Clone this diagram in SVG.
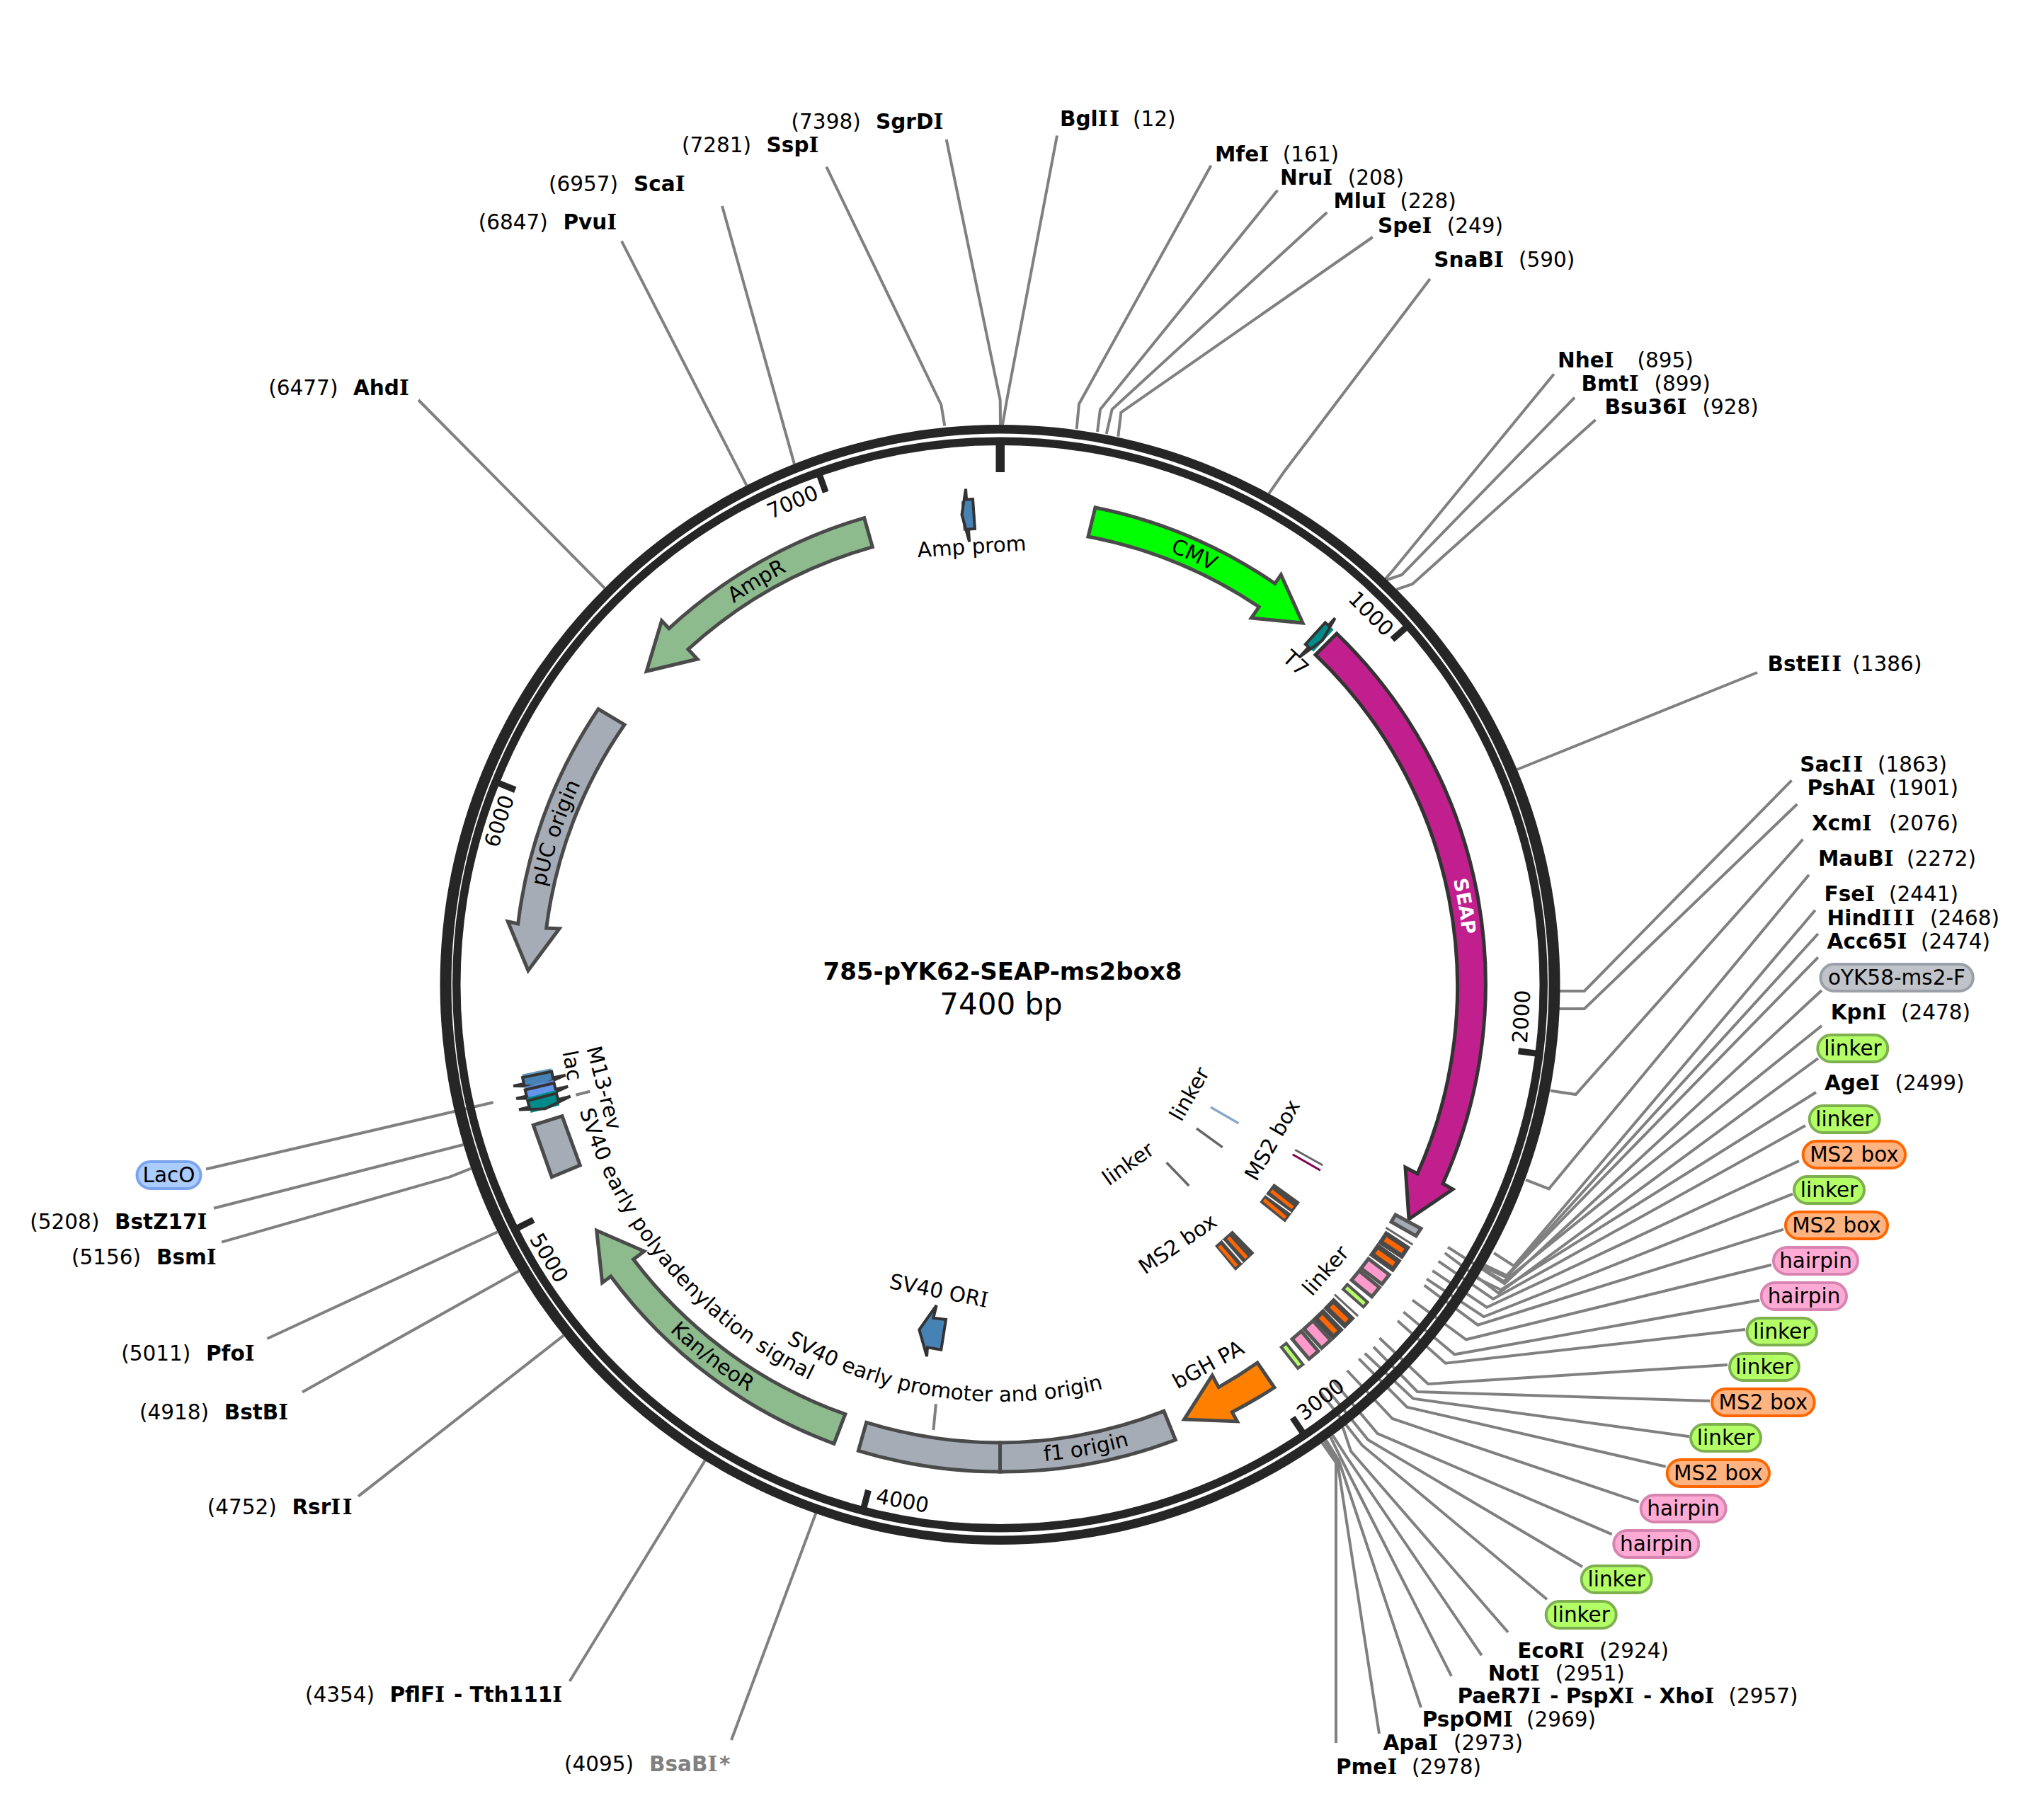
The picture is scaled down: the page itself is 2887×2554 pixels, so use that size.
<svg xmlns="http://www.w3.org/2000/svg" width="2887" height="2554" viewBox="0 0 2887 2554">
<style>
text{font-family:"DejaVu Sans","Liberation Sans",sans-serif;font-size:29.5px;fill:#000}
.m{text-anchor:middle}
.b{font-weight:bold}
.i{font-family:"DejaVu Serif",serif;letter-spacing:.09em}
.ir{font-family:"DejaVu Serif",serif;letter-spacing:.05em}
.gr{fill:#808080}
#connectors polyline{fill:none;stroke:#808080;stroke-width:4}
.ring{fill:none;stroke:#262626;stroke-width:11.5}
.tick{fill:#262626}
.f{stroke:#4a4a4a;stroke-width:5;stroke-linejoin:miter}
.ori{fill:#a6acb5}
.mk{stroke:#333;stroke-width:4;fill:#4682b4}
.pill{stroke-width:4}
.lk{fill:#b3ff66;stroke:#7fb050}
.ms{fill:#ffb380;stroke:#ff6600}
.hp{fill:#ffaad4;stroke:#d884b0}
.pr{fill:#c0c4ca;stroke:#9a9fa8}
.lo{fill:#aaccff;stroke:#7aa5ee}
</style>
<defs>
<path id="up657" d="M1412.5,2048A657,657 0 1 1 1412.5,734A657,657 0 1 1 1412.5,2048"/>
<path id="low676" d="M1412.5,715A676,676 0 1 0 1412.5,2067A676,676 0 1 0 1412.5,715"/>
<path id="low589" d="M1412.5,802A589,589 0 1 0 1412.5,1980A589,589 0 1 0 1412.5,802"/>
<path id="low620" d="M1412.5,771A620,620 0 1 0 1412.5,2011A620,620 0 1 0 1412.5,771"/>
<g id="blkMs"><rect x="1402" y="703" width="21" height="42" fill="#4a4a4a"/><rect x="1409" y="709" width="7" height="30" fill="#ff6600"/></g>
<g id="blkPk"><rect x="1404" y="705.5" width="17" height="37" fill="#ff99cc" stroke="#555" stroke-width="5"/></g>
<g id="blkGn"><rect x="1408" y="705" width="9" height="38" fill="#b3ff66" stroke="#555" stroke-width="4"/></g>
<rect id="blkTh" x="1411" y="702" width="3" height="45" fill="#666"/>
<polygon id="mkL" points="1421.5,704 1412.5,704 1412.5,689 1404.5,725 1412.5,764 1412.5,746 1421.5,746"/>
</defs>

<g id="connectors">
<polyline points="1334.3,601.7 1329.3,571.7 1167.3,235.7"/>
<polyline points="1413,600 1412.7,565 1336.7,197"/>
<polyline points="1416,600 1422.7,561.7 1493,191.5"/>
<polyline points="1520.7,606 1524,570.7 1710.5,233.8"/>
<polyline points="1550,610 1554,578.3 1804.4,268.8"/>
<polyline points="1562.7,613 1570.7,578.3 1874.3,300"/>
<polyline points="1579.3,616.7 1583.3,582.7 1938.8,335"/>
<polyline points="1792.3,697.2 1813.6,666.5 2019.8,394"/>
<polyline points="1957,817.3 1968,805 2194.7,528.4"/>
<polyline points="1959,819 1980,812 2224,561.6"/>
<polyline points="1972.6,832.6 1995,825 2253.6,592.9"/>
<polyline points="2142.8,1087 2482,950"/>
<polyline points="2200,1400 2237.8,1400 2530.6,1102.3"/>
<polyline points="2200,1425 2237.8,1425 2538.3,1136"/>
<polyline points="2190,1540.7 2225.7,1546 2546.4,1185.7"/>
<polyline points="2155,1666.7 2187.7,1679.3 2555,1235.7"/>
<polyline points="2110,1770 2138.3,1788.3 2563.8,1285.7"/>
<polyline points="2097.2,1787 2128.3,1801.7 2567.9,1319"/>
<polyline points="2095,1790 2127,1804 2567.9,1352.3"/>
<polyline points="2045,1761.7 2125,1813.3 2573,1399"/>
<polyline points="2094,1792.4 2124,1810 2573,1449"/>
<polyline points="2040.7,1770 2116.7,1826.7 2568,1495"/>
<polyline points="2086.2,1805.5 2120,1822 2565,1543"/>
<polyline points="2031.7,1781.7 2109,1835 2550,1590"/>
<polyline points="2023.3,1795 2100,1846.7 2541,1640"/>
<polyline points="2015,1806.7 2095.7,1860 2532,1686.7"/>
<polyline points="2011.7,1815.7 2087.3,1871.7 2519,1736.7"/>
<polyline points="1995,1836.7 2070.7,1892.3 2502,1786.7"/>
<polyline points="1982.3,1853.3 2054.5,1913.3 2485,1836.7"/>
<polyline points="1974,1865.7 2041.7,1925.7 2465,1878"/>
<polyline points="1948.3,1890 2017,1955 2440,1928"/>
<polyline points="1940,1902.7 2002,1966 2415,1979"/>
<polyline points="1927.7,1911.7 1996,1975.7 2386,2029.3"/>
<polyline points="1919.3,1919.3 1987.3,1987.7 2352.7,2071.7"/>
<polyline points="1902.7,1936 1966.7,2004 2314.7,2121.7"/>
<polyline points="1883.6,1951.2 1945.7,2025 2276.7,2167.3"/>
<polyline points="1872.7,1960.2 1932.3,2034 2235,2213.3"/>
<polyline points="1864.9,1966.5 1924,2041.7 2185,2259.3"/>
<polyline points="1896.7,2016.4 1908,2050 2130,2305.7"/>
<polyline points="1882.3,2027.4 1900,2055 2092.7,2338.3"/>
<polyline points="1879.1,2029.7 1894,2060 2050,2367.7"/>
<polyline points="1873,2034.2 1891,2063 2007,2412"/>
<polyline points="1870.7,2035.8 1889,2065 1948,2449"/>
<polyline points="1867.3,2038.1 1887,2066 1887,2462"/>
<polyline points="1152.3,2137.8 1033,2458"/>
<polyline points="995.6,2063.4 804.6,2375"/>
<polyline points="796,1886.6 506,2113.7"/>
<polyline points="732.8,1795.4 427,1966.4"/>
<polyline points="702.7,1740.2 377.4,1891"/>
<polyline points="665.3,1650.7 635,1662.6 313,1754.6"/>
<polyline points="654.5,1617 302,1706.8"/>
<polyline points="696.7,1557.3 291,1651.5"/>
<polyline points="813.3,1546.7 833.3,1541.7"/>
<polyline points="854.1,830.8 591,565"/>
<polyline points="1054.5,685.7 878,340.6"/>
<polyline points="1121.9,655.4 1020,291"/>
<polyline points="1321.9,1983.3 1318.4,2020"/>
</g>

<g id="backbone">
<path fill="#262626" fill-rule="evenodd" d="M1412.5,600A791,791 0 1 1 1412.5,2182A791,791 0 1 1 1412.5,600ZM1412.5,612.5A775,778.5 0 1 0 1412.5,2169.5A775,778.5 0 1 0 1412.5,612.5Z"/>
<circle class="ring" cx="1412.5" cy="1391" r="767.75"/>
<rect class="tick" x="1406.5" y="629" width="12.5" height="38"/>
<rect class="tick" x="1408" y="628" width="9" height="25" transform="rotate(48.65 1412.5 1391)"/>
<rect class="tick" x="1408" y="628" width="9" height="25" transform="rotate(97.3 1412.5 1391)"/>
<rect class="tick" x="1408" y="628" width="9" height="25" transform="rotate(145.95 1412.5 1391)"/>
<rect class="tick" x="1408" y="628" width="9" height="25" transform="rotate(194.6 1412.5 1391)"/>
<rect class="tick" x="1408" y="628" width="9" height="25" transform="rotate(243.24 1412.5 1391)"/>
<rect class="tick" x="1408" y="628" width="9" height="25" transform="rotate(291.9 1412.5 1391)"/>
<rect class="tick" x="1408" y="628" width="9" height="25" transform="rotate(340.5 1412.5 1391)"/>
<text class="m" x="1412.5" y="660" transform="rotate(45 1412.5 1391)">1000</text>
<text class="m" x="1412.5" y="2139" transform="rotate(-86.5 1412.5 1391)">2000</text>
<text class="m" x="1412.5" y="2141.5" transform="rotate(-37.7 1412.5 1391)">3000</text>
<text class="m" x="1412.5" y="2143" transform="rotate(10.7 1412.5 1391)">4000</text>
<text class="m" x="1412.5" y="2146" transform="rotate(58.8 1412.5 1391)">5000</text>
<text class="m" x="1412.5" y="657" transform="rotate(-71.9 1412.5 1391)">6000</text>
<text class="m" x="1412.5" y="659" transform="rotate(-23.25 1412.5 1391)">7000</text>
</g>

<g id="title">
<text class="m b" x="1416" y="1384" style="font-size:34px">785-pYK62-SEAP-ms2box8</text>
<text class="m" x="1414" y="1433" style="font-size:42px">7400 bp</text>
</g>

<g id="CMV">
<path class="f" fill="#00ff00" d="M1547,717A687,687 0 0 1 1800.8,824.3L1809.3,811.9L1840,880L1767.4,873L1778.2,857.3A647,647 0 0 0 1537,758Z"/>
<text class="m" transform="rotate(24.3 1412.5 1391)"><textPath href="#up657" startOffset="50%">CMV</textPath></text>
</g>
<g id="T7">
<rect x="1409" y="703" width="13" height="42" fill="#008b8b" transform="rotate(42.42 1412.5 1391)"/>
<polygon class="mk" style="fill:#008b8b" points="1406.5,703.5 1412.5,703.5 1412.5,689.5 1420.5,725 1412.5,763.5 1412.5,745 1406.5,745" transform="rotate(42.42 1412.5 1391)"/>
<text class="m" x="1412.5" y="784" transform="rotate(42.6 1412.5 1391)">T7</text>
</g>
<g id="SEAP">
<path class="f" style="stroke:#333" fill="#c11f8e" d="M1888,895A688,688 0 0 1 2038,1672L2052,1680L1990,1722L1985,1649L2002,1658A647,647 0 0 0 1858,925Z"/>
<text class="m b" style="font-size:27px;fill:#fff" transform="rotate(80.4 1412.5 1391)"><textPath href="#up657" startOffset="50%">SEAP</textPath></text>
</g>
<g id="ms2-stack">
<polygon points="1971,1716 2007,1735.5 2000,1746 1965,1726" fill="#a6acb5" stroke="#555" stroke-width="5"/>
<use href="#blkTh" transform="rotate(122.2 1412.5 1391)"/>
<use href="#blkMs" transform="rotate(123.46 1412.5 1391)"/>
<use href="#blkMs" transform="rotate(125.34 1412.5 1391)"/>
<use href="#blkPk" transform="rotate(127.4 1412.5 1391)"/>
<use href="#blkPk" transform="rotate(129.3 1412.5 1391)"/>
<use href="#blkGn" transform="rotate(131.2 1412.5 1391)"/>
<use href="#blkTh" transform="rotate(132.8 1412.5 1391)"/>
<use href="#blkMs" transform="rotate(134.1 1412.5 1391)"/>
<use href="#blkMs" transform="rotate(136 1412.5 1391)"/>
<use href="#blkPk" transform="rotate(137.8 1412.5 1391)"/>
<use href="#blkPk" transform="rotate(139.75 1412.5 1391)"/>
<use href="#blkGn" transform="rotate(141.8 1412.5 1391)"/>
<text class="m" x="1412.5" y="2013" transform="rotate(-48.7 1412.5 1391)">linker</text>
</g>
<g id="inner-ms2">
<line x1="1710" y1="1564" x2="1749.3" y2="1586.7" stroke="#88a8c8" stroke-width="3.5"/>
<line x1="1690" y1="1594" x2="1726.7" y2="1620.7" stroke="#666" stroke-width="3.5"/>
<line x1="1647.7" y1="1642.3" x2="1679.3" y2="1675" stroke="#666" stroke-width="3.5"/>
<line x1="1829.3" y1="1624.3" x2="1868.3" y2="1646" stroke="#666" stroke-width="3"/>
<line x1="1825.7" y1="1630.7" x2="1865" y2="1653.3" stroke="#800050" stroke-width="3"/>
<polygon points="1799.3,1671.7 1836,1698.3 1815,1726.7 1779.3,1698.3" fill="#4a4a4a"/>
<line x1="1787.3" y1="1687.3" x2="1823.3" y2="1713.3" stroke="#fff" stroke-width="2"/>
<line x1="1795.7" y1="1682.3" x2="1826" y2="1706" stroke="#ff6600" stroke-width="5"/>
<line x1="1785.3" y1="1695" x2="1815.7" y2="1720" stroke="#ff6600" stroke-width="5"/>
<polygon points="1740.7,1738.3 1771.7,1770 1745,1795 1716,1760" fill="#4a4a4a"/>
<line x1="1726.7" y1="1751.7" x2="1755" y2="1784" stroke="#fff" stroke-width="2"/>
<line x1="1735" y1="1748.3" x2="1760.7" y2="1776.7" stroke="#ff6600" stroke-width="5"/>
<line x1="1722.3" y1="1760" x2="1746.7" y2="1788.3" stroke="#ff6600" stroke-width="5"/>
<text class="m" x="1412.5" y="1710" transform="rotate(-60 1412.5 1391)">linker</text>
<text class="m" x="1412.5" y="1712" transform="rotate(-35.6 1412.5 1391)">linker</text>
<text class="m" x="1412.5" y="1844" transform="rotate(-60.3 1412.5 1391)">MS2 box</text>
<text class="m" x="1412.5" y="1845" transform="rotate(-34.4 1412.5 1391)">MS2 box</text>
</g>
<g id="bGH-PA">
<path class="f" fill="#ff8000" d="M1800,1960A688,688 0 0 1 1740.3,1994.7L1747.5,2007.9L1672.6,2005L1712.2,1942.9L1721.2,1959.6A647,647 0 0 0 1776,1925Z"/>
<text class="m" x="1412.5" y="2013" transform="rotate(-28.7 1412.5 1391)">bGH PA</text>
</g>
<g id="f1-origin">
<path class="f ori" d="M1412.5,2038A647,647 0 0 0 1643.9,1993.3L1660.3,2034A689,689 0 0 1 1412.5,2079Z"/>
<text class="m" transform="rotate(-10.5 1412.5 1391)"><textPath href="#low676" startOffset="50%">f1 origin</textPath></text>
</g>
<g id="SV40-promoter">
<path class="f ori" d="M1412.5,2038A647,647 0 0 1 1223.7,2009.3L1212.4,2049.3A689,689 0 0 0 1412.5,2079Z"/>
<text class="m" transform="rotate(8.25 1412.5 1391)"><textPath href="#low589" startOffset="50%">SV40 early promoter and origin</textPath></text>
</g>
<g id="SV40-ORI">
<polygon class="mk" points="1322.7,1844 1318.3,1861.7 1336,1864 1329.3,1906.7 1310,1903.3 1309,1916 1298.3,1878.3"/>
<text class="m" x="1412.5" y="1842" transform="rotate(11.2 1412.5 1391)">SV40 OR<tspan class="ir">I</tspan></text>
</g>
<g id="KanneoR">
<path class="f" fill="#8dbb8d" d="M1178,2039.3A689,689 0 0 1 862.7,1802.9L850.7,1811.9L842.7,1738.3L909.9,1767.5L894.7,1778.9A647,647 0 0 0 1193.8,1997.7Z"/>
<text class="m" transform="rotate(37.7 1412.5 1391)"><textPath href="#low676" startOffset="50%">Kan/neoR</textPath></text>
</g>
<g id="SV40-polyA">
<polygon class="f ori" points="753.3,1589.3 794,1576.7 819.3,1646 779.3,1662.7"/>
<text class="m" style="letter-spacing:.4px" transform="rotate(49.5 1412.5 1391)"><textPath href="#low620" startOffset="50%">SV40 early polyadenylation signal</textPath></text>
</g>
<g id="M13-rev">
<rect x="1404" y="704" width="22" height="42" fill="#4682b4" opacity=".8" transform="rotate(258.25 1412.5 1391)"/>
<use href="#mkL" class="mk" transform="rotate(258.25 1412.5 1391)"/>
<text class="m" x="1412.5" y="1979" transform="rotate(75.4 1412.5 1391)">M13-rev</text>
</g>
<g id="lac">
<rect x="1404" y="704" width="22" height="42" fill="#6495ed" opacity=".8" transform="rotate(256.76 1412.5 1391)"/>
<use href="#mkL" class="mk" style="fill:#6495ed" transform="rotate(256.76 1412.5 1391)"/>
<text class="m" x="1412.5" y="2016" transform="rotate(79.3 1412.5 1391)">lac</text>
</g>
<g id="LacO-feature">
<rect x="1404" y="704" width="22" height="42" fill="#008b8b" transform="rotate(255.44 1412.5 1391)"/>
<use href="#mkL" class="mk" style="fill:#008b8b" transform="rotate(255.44 1412.5 1391)"/>
</g>
<g id="pUC-origin">
<path class="f ori" d="M845.1,1001.6A688,688 0 0 0 731.7,1305L717.3,1301.7L746,1371L790,1311.7L771.7,1311A647,647 0 0 1 882,1023.7Z"/>
<text class="m" transform="rotate(-71.15 1412.5 1391)"><textPath href="#up657" startOffset="50%">pUC origin</textPath></text>
</g>
<g id="AmpR">
<path class="f" fill="#8dbb8d" d="M1220.7,731.7A687,687 0 0 0 944.8,887.8L934.6,876.8L913.2,948.2L985,931L972,917.1A647,647 0 0 1 1232.3,772.7Z"/>
<text class="m" transform="rotate(-31.1 1412.5 1391)"><textPath href="#up657" startOffset="50%">AmpR</textPath></text>
</g>
<g id="Amp-prom">
<rect x="1405" y="706" width="18" height="42" fill="#4682b4" transform="rotate(-3.96 1412.5 1391)"/>
<use href="#mkL" class="mk" transform="rotate(-3.96 1412.5 1391)"/>
<text class="m" x="1412.5" y="781" transform="rotate(-3.7 1412.5 1391)">Amp prom</text>
</g>

<g id="site-SgrDI"><text y="182"><tspan x="1117.6">(7398)</tspan><tspan class="b" x="1237">SgrD<tspan class="i">I</tspan></tspan></text></g>
<g id="site-BglII"><text y="178.4"><tspan class="b" x="1497">Bgl<tspan class="i">II</tspan></tspan><tspan x="1600">(12)</tspan></text></g>
<g id="site-SspI"><text y="215"><tspan x="963">(7281)</tspan><tspan class="b" x="1082.6">Ssp<tspan class="i">I</tspan></tspan></text></g>
<g id="site-ScaI"><text y="270.4"><tspan x="775">(6957)</tspan><tspan class="b" x="895">Sca<tspan class="i">I</tspan></tspan></text></g>
<g id="site-PvuI"><text y="323.8"><tspan x="675.7">(6847)</tspan><tspan class="b" x="795.4">Pvu<tspan class="i">I</tspan></tspan></text></g>
<g id="site-AhdI"><text y="557.6"><tspan x="379.3">(6477)</tspan><tspan class="b" x="499">Ahd<tspan class="i">I</tspan></tspan></text></g>
<g id="site-MfeI"><text y="228"><tspan class="b" x="1716">Mfe<tspan class="i">I</tspan></tspan><tspan x="1811.7">(161)</tspan></text></g>
<g id="site-NruI"><text y="261.2"><tspan class="b" x="1808">Nru<tspan class="i">I</tspan></tspan><tspan x="1903.7">(208)</tspan></text></g>
<g id="site-MluI"><text y="294.4"><tspan class="b" x="1883.5">Mlu<tspan class="i">I</tspan></tspan><tspan x="1977.4">(228)</tspan></text></g>
<g id="site-SpeI"><text y="329.4"><tspan class="b" x="1946">Spe<tspan class="i">I</tspan></tspan><tspan x="2043.7">(249)</tspan></text></g>
<g id="site-SnaBI"><text y="377.3"><tspan class="b" x="2025.3">SnaB<tspan class="i">I</tspan></tspan><tspan x="2145">(590)</tspan></text></g>
<g id="site-NheI"><text y="519"><tspan class="b" x="2200">Nhe<tspan class="i">I</tspan></tspan><tspan x="2312.5">(895)</tspan></text></g>
<g id="site-BmtI"><text y="552"><tspan class="b" x="2233.4">Bmt<tspan class="i">I</tspan></tspan><tspan x="2336.5">(899)</tspan></text></g>
<g id="site-Bsu36I"><text y="585.3"><tspan class="b" x="2266.5">Bsu36<tspan class="i">I</tspan></tspan><tspan x="2404.5">(928)</tspan></text></g>
<g id="site-BstEII"><text y="948"><tspan class="b" x="2496.6">BstE<tspan class="i">II</tspan></tspan><tspan x="2616.3">(1386)</tspan></text></g>
<g id="site-SacII"><text y="1090"><tspan class="b" x="2542.3">Sac<tspan class="i">II</tspan></tspan><tspan x="2652">(1863)</tspan></text></g>
<g id="site-PshAI"><text y="1123.3"><tspan class="b" x="2552.6">PshA<tspan class="i">I</tspan></tspan><tspan x="2668">(1901)</tspan></text></g>
<g id="site-XcmI"><text y="1173"><tspan class="b" x="2559">Xcm<tspan class="i">I</tspan></tspan><tspan x="2668">(2076)</tspan></text></g>
<g id="site-MauBI"><text y="1223"><tspan class="b" x="2568">MauB<tspan class="i">I</tspan></tspan><tspan x="2693">(2272)</tspan></text></g>
<g id="site-FseI"><text y="1273"><tspan class="b" x="2576.5">Fse<tspan class="i">I</tspan></tspan><tspan x="2668">(2441)</tspan></text></g>
<g id="site-HindIII"><text y="1306.7"><tspan class="b" x="2580.6">Hind<tspan class="i">III</tspan></tspan><tspan x="2726">(2468)</tspan></text></g>
<g id="site-Acc65I"><text y="1340"><tspan class="b" x="2580.6">Acc65<tspan class="i">I</tspan></tspan><tspan x="2713">(2474)</tspan></text></g>
<g id="site-KpnI"><text y="1440"><tspan class="b" x="2585.7">Kpn<tspan class="i">I</tspan></tspan><tspan x="2685">(2478)</tspan></text></g>
<g id="site-AgeI"><text y="1540"><tspan class="b" x="2577">Age<tspan class="i">I</tspan></tspan><tspan x="2676.5">(2499)</tspan></text></g>
<g id="site-EcoRI"><text y="2341.7"><tspan class="b" x="2143.3">EcoR<tspan class="i">I</tspan></tspan><tspan x="2259">(2924)</tspan></text></g>
<g id="site-NotI"><text y="2374"><tspan class="b" x="2101.7">Not<tspan class="i">I</tspan></tspan><tspan x="2196.7">(2951)</tspan></text></g>
<g id="site-PaeR7I"><text y="2406"><tspan class="b" x="2058.4">PaeR7<tspan class="i">I</tspan> - PspX<tspan class="i">I</tspan> - Xho<tspan class="i">I</tspan></tspan><tspan x="2441.4">(2957)</tspan></text></g>
<g id="site-PspOMI"><text y="2439"><tspan class="b" x="2008.7">PspOM<tspan class="i">I</tspan></tspan><tspan x="2156">(2969)</tspan></text></g>
<g id="site-ApaI"><text y="2472"><tspan class="b" x="1953.5">Apa<tspan class="i">I</tspan></tspan><tspan x="2053">(2973)</tspan></text></g>
<g id="site-PmeI"><text y="2505.6"><tspan class="b" x="1887">Pme<tspan class="i">I</tspan></tspan><tspan x="1994">(2978)</tspan></text></g>
<g id="site-BsaBI"><text y="2502"><tspan x="797">(4095)</tspan><tspan class="b gr" x="917">BsaB<tspan class="i gr">I</tspan>*</tspan></text></g>
<g id="site-PflFI"><text y="2404"><tspan x="431">(4354)</tspan><tspan class="b" x="550.5">PflF<tspan class="i">I</tspan> - Tth111<tspan class="i">I</tspan></tspan></text></g>
<g id="site-RsrII"><text y="2139"><tspan x="292.7">(4752)</tspan><tspan class="b" x="412.4">Rsr<tspan class="i">II</tspan></tspan></text></g>
<g id="site-BstBI"><text y="2005"><tspan x="197">(4918)</tspan><tspan class="b" x="316.7">BstB<tspan class="i">I</tspan></tspan></text></g>
<g id="site-PfoI"><text y="1922"><tspan x="171.2">(5011)</tspan><tspan class="b" x="291">Pfo<tspan class="i">I</tspan></tspan></text></g>
<g id="site-BsmI"><text y="1785.7"><tspan x="101">(5156)</tspan><tspan class="b" x="221">Bsm<tspan class="i">I</tspan></tspan></text></g>
<g id="site-BstZ17I"><text y="1736"><tspan x="42.3">(5208)</tspan><tspan class="b" x="162">BstZ17<tspan class="i">I</tspan></tspan></text></g>

<g id="pill-LacO"><rect class="pill lo" x="193.5" y="1641" width="90" height="38" rx="19"/><text class="m" x="238.5" y="1670">LacO</text></g>
<g id="pill-oYK58"><rect class="pill pr" x="2571.4" y="1362" width="215.4" height="38" rx="19"/><text class="m" x="2679" y="1391">oYK58-ms2-F</text></g>
<g id="pill-linker1"><rect class="pill lk" x="2567.3" y="1462" width="99" height="38" rx="19"/><text class="m" x="2617" y="1491">linker</text></g>
<g id="pill-linker2"><rect class="pill lk" x="2555.7" y="1562" width="99" height="38" rx="19"/><text class="m" x="2605" y="1591">linker</text></g>
<g id="pill-ms2-1"><rect class="pill ms" x="2546.6" y="1612" width="144.5" height="38" rx="19"/><text class="m" x="2619" y="1641">MS2 box</text></g>
<g id="pill-linker3"><rect class="pill lk" x="2534" y="1662" width="99" height="38" rx="19"/><text class="m" x="2583.5" y="1691">linker</text></g>
<g id="pill-ms2-2"><rect class="pill ms" x="2522" y="1712" width="144" height="38" rx="19"/><text class="m" x="2594" y="1741">MS2 box</text></g>
<g id="pill-hairpin1"><rect class="pill hp" x="2505" y="1762" width="119" height="38" rx="19"/><text class="m" x="2564.5" y="1791">hairpin</text></g>
<g id="pill-hairpin2"><rect class="pill hp" x="2487.7" y="1812" width="120.3" height="38" rx="19"/><text class="m" x="2548" y="1841">hairpin</text></g>
<g id="pill-linker4"><rect class="pill lk" x="2467.6" y="1862" width="98.3" height="38" rx="19"/><text class="m" x="2516.7" y="1891">linker</text></g>
<g id="pill-linker5"><rect class="pill lk" x="2443" y="1912" width="98" height="38" rx="19"/><text class="m" x="2492" y="1941">linker</text></g>
<g id="pill-ms2-3"><rect class="pill ms" x="2418" y="1962" width="144.7" height="38" rx="19"/><text class="m" x="2490.4" y="1991">MS2 box</text></g>
<g id="pill-linker6"><rect class="pill lk" x="2388" y="2012" width="99" height="38" rx="19"/><text class="m" x="2437.5" y="2041">linker</text></g>
<g id="pill-ms2-4"><rect class="pill ms" x="2354.7" y="2062" width="144.3" height="38" rx="19"/><text class="m" x="2426.8" y="2091">MS2 box</text></g>
<g id="pill-hairpin3"><rect class="pill hp" x="2317.6" y="2112" width="120" height="38" rx="19"/><text class="m" x="2377.6" y="2141">hairpin</text></g>
<g id="pill-hairpin4"><rect class="pill hp" x="2279.3" y="2162" width="120" height="38" rx="19"/><text class="m" x="2339.3" y="2191">hairpin</text></g>
<g id="pill-linker7"><rect class="pill lk" x="2233.7" y="2212" width="99" height="38" rx="19"/><text class="m" x="2283.2" y="2241">linker</text></g>
<g id="pill-linker8"><rect class="pill lk" x="2183.7" y="2262" width="99" height="38" rx="19"/><text class="m" x="2233.2" y="2291">linker</text></g>
</svg>
